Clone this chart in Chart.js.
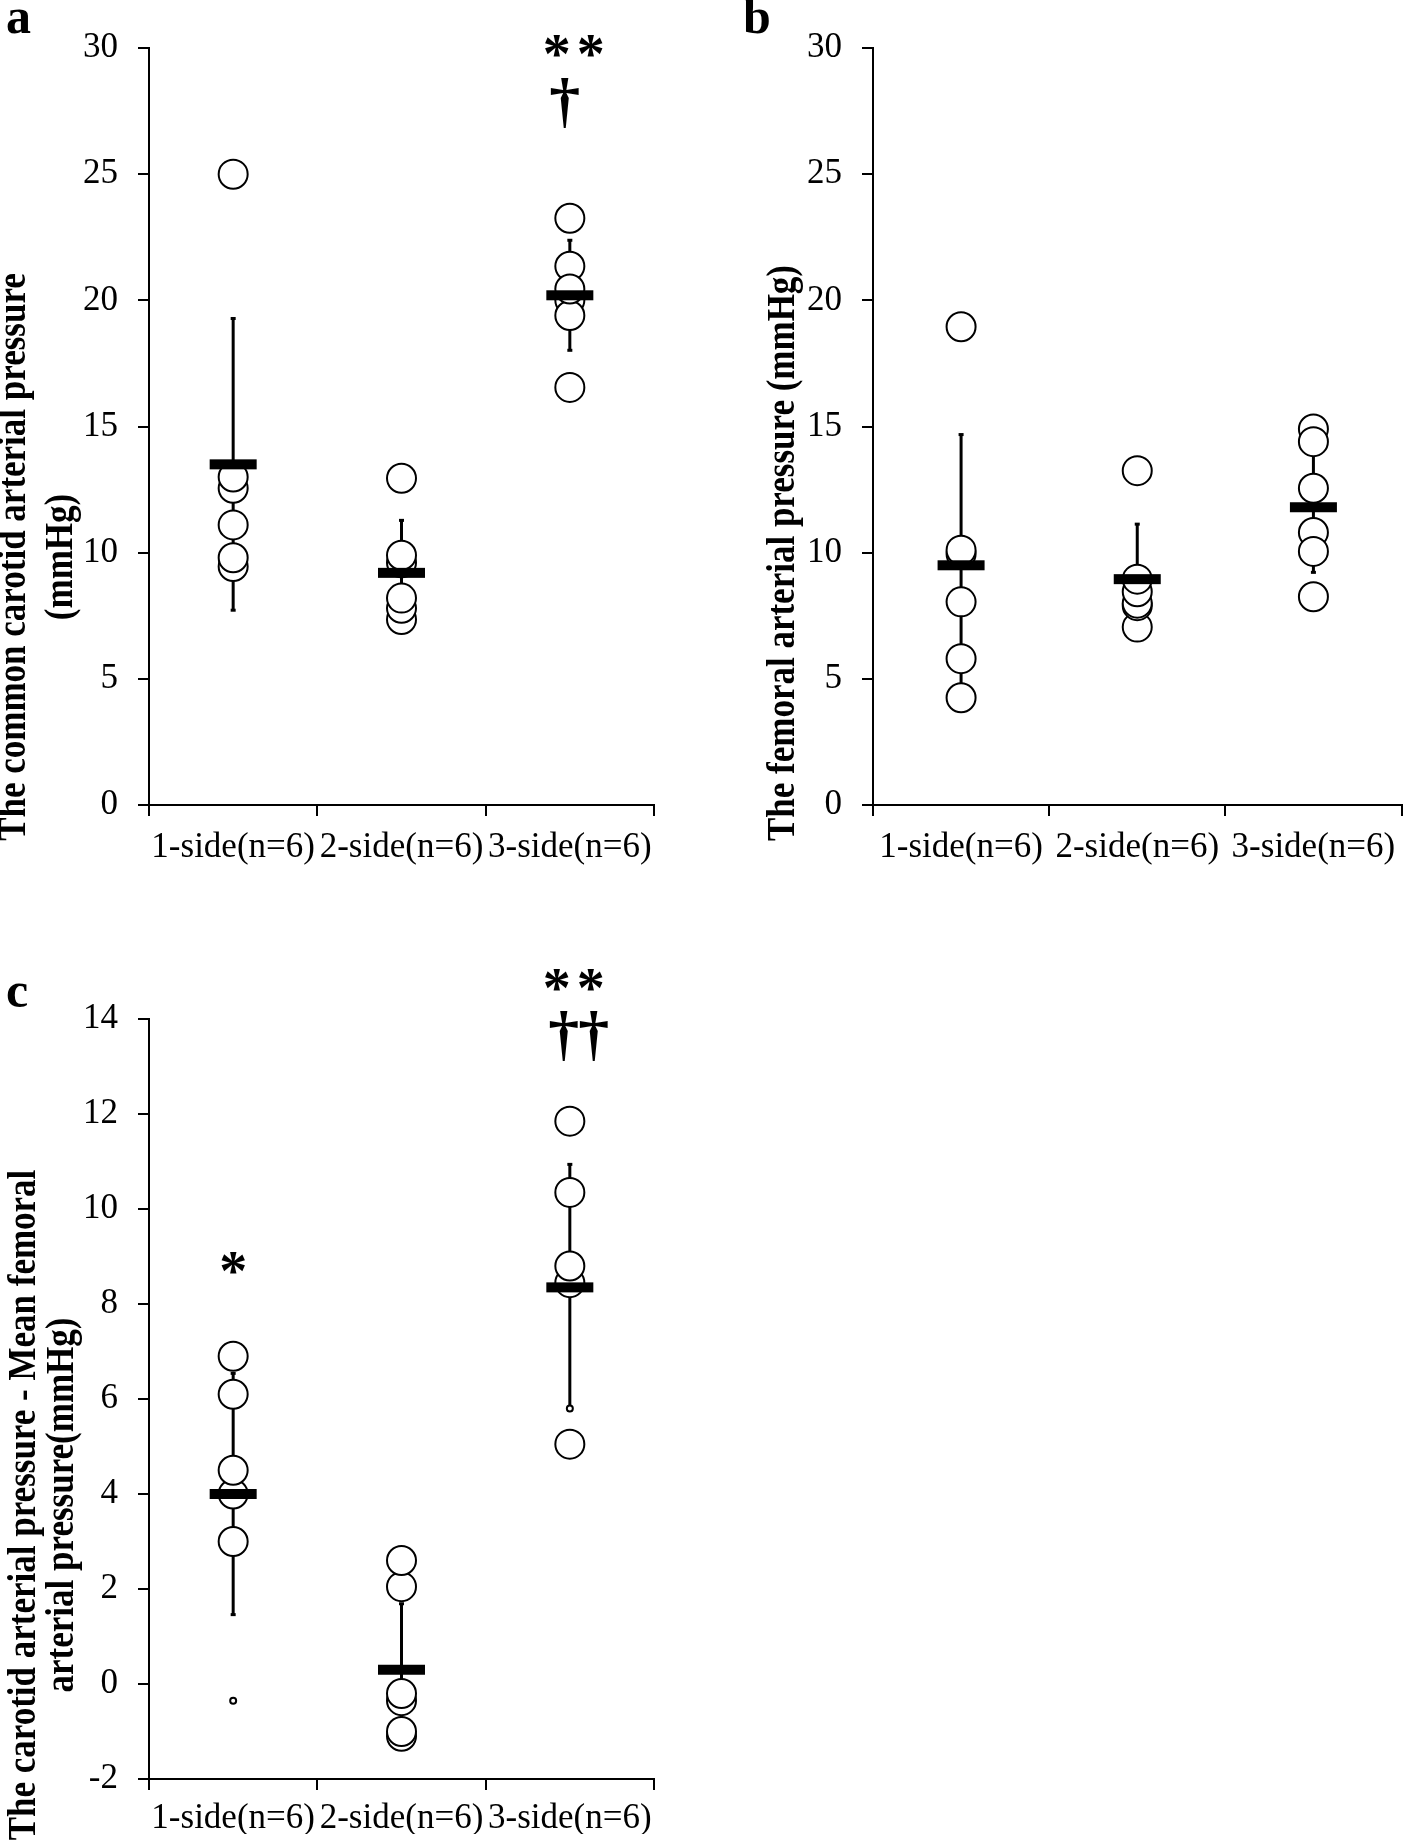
<!DOCTYPE html>
<html><head><meta charset="utf-8">
<script src="https://cdn.jsdelivr.net/npm/chart.js@4.4.0/dist/chart.umd.min.js"></script>
<style>
html,body{margin:0;padding:0;background:#fff;}
body{width:1418px;height:1840px;position:relative;overflow:hidden;}
canvas{position:absolute;}
</style></head><body>
<canvas id="ca" width="709" height="920" style="left:0;top:0;width:709px;height:920px"></canvas>
<canvas id="cb" width="709" height="920" style="left:709px;top:0;width:709px;height:920px"></canvas>
<canvas id="cc" width="709" height="920" style="left:0;top:920px;width:709px;height:920px"></canvas>
<script>
// ---------- DATA ----------
const categories = ['1-side(n=6)', '2-side(n=6)', '3-side(n=6)'];

// a: common carotid arterial pressure (mmHg)
const carotid1 = [9.45, 9.8, 11.1, 12.55, 13.0, 25.0];
const carotid2 = [7.35, 7.8, 8.2, 9.6, 9.9, 12.95];
const carotid3 = [16.55, 20.0, 19.4, 21.35, 20.45, 23.25];
const carotidMean = [13.5, 9.2, 20.2];
const carotidSD = [5.8, 2.1, 2.2];
const carotidTicks = {min: 0, max: 30, step: 5};
const carotidMarks = ['', '', '**|†'];
const carotidMarkValues = [null, null, [30.05, 27.8]];

// b: femoral arterial pressure (mmHg)
const femoral1 = [4.25, 5.8, 8.05, 9.95, 10.1, 18.95];
const femoral2 = [7.05, 7.9, 8.0, 8.45, 8.95, 13.25];
const femoral3 = [8.25, 10.8, 10.05, 12.55, 14.9, 14.4];
const femoralMean = [9.5, 8.95, 11.8];
const femoralSD = [5.2, 2.2, 2.6];
const femoralTicks = {min: 0, max: 30, step: 5};

// c: carotid - mean femoral arterial pressure (mmHg)
const diff1 = [-0.35, 3.0, 4.0, 4.5, 6.1, 6.9];
const diff2 = [-0.35, -0.2, -1.1, -1.0, 2.05, 2.6];
const diff3 = [5.8, 5.05, 8.45, 8.8, 10.35, 11.85];
const diffMean = [4.0, 0.3, 8.35];
const diffSD = [2.55, 1.4, 2.6];
const diffTicks = {min: -2, max: 14, step: 2};
const diffMarks = ['*', '', '**|††'];
const diffMarkValues = [[8.85], null, [14.8, 13.63]];

// ---------- DRAWING ----------
const SERIF = "'Liberation Serif', 'Times New Roman', serif";

function groupDataset(values, cat, radii) {
  return {
    data: values.map(v => ({x: categories[cat], y: v})),
    showLine: false,
    pointRadius: radii || 14.5,
    pointHoverRadius: radii || 14.5,
    pointBackgroundColor: '#fff',
    pointBorderColor: '#000',
    pointBorderWidth: 2,
    clip: false
  };
}

const meanSdPlugin = {
  id: 'meanSd',
  beforeDatasetsDraw(chart, args, opts) {
    const {ctx} = chart; const x = chart.scales.x, y = chart.scales.y;
    ctx.save(); ctx.strokeStyle = '#000'; ctx.fillStyle = '#000'; ctx.lineWidth = 3;
    opts.means.forEach((m, i) => {
      const px = x.getPixelForValue(i);
      const t = y.getPixelForValue(m + opts.sds[i]);
      const b = y.getPixelForValue(m - opts.sds[i]);
      ctx.beginPath(); ctx.moveTo(px, t); ctx.lineTo(px, b); ctx.stroke();
      ctx.fillRect(px - 2.5, t - 1, 5, 3);
      ctx.fillRect(px - 2.5, b - 2, 5, 3);
    });
    ctx.restore();
  },
  afterDatasetsDraw(chart, args, opts) {
    const {ctx} = chart; const x = chart.scales.x, y = chart.scales.y;
    ctx.save(); ctx.fillStyle = '#000';
    opts.means.forEach((m, i) => {
      const px = x.getPixelForValue(i), py = y.getPixelForValue(m);
      ctx.fillRect(px - 23.5, py - 5, 47, 10);
    });
    ctx.restore();
  }
};

const textPlugin = {
  id: 'panelText',
  afterDraw(chart, args, opts) {
    const {ctx} = chart; const x = chart.scales.x, y = chart.scales.y;
    ctx.save(); ctx.fillStyle = '#000';
    // panel letter
    ctx.font = 'bold 50px ' + SERIF; ctx.textAlign = 'left'; ctx.textBaseline = 'alphabetic';
    ctx.fillText(opts.letter, opts.letterX, opts.letterY);
    // rotated axis title
    opts.title.forEach((line, k) => {
      ctx.save();
      ctx.translate(opts.titleX[k], opts.titleCY);
      ctx.rotate(-Math.PI / 2);
      ctx.scale(0.875, 1);
      ctx.font = 'bold 40px ' + SERIF; ctx.textAlign = 'center'; ctx.textBaseline = 'alphabetic';
      ctx.fillText(line, 0, 0);
      ctx.restore();
    });
    // significance marks
    (opts.marks || []).forEach((mk, i) => {
      if (!mk) return;
      const rows = mk.split('|');
      const px = x.getPixelForValue(i);
      rows.forEach((row, r) => {
        const v = opts.markValues[i][r];
        const py = y.getPixelForValue(v);
        const chars = Array.from(row);
        const isDagger = row[0] === '†';
        const sp = isDagger ? 30 : 34;
        const dx = isDagger ? (chars.length > 1 ? 9 : -5) : (chars.length > 1 ? 4 : 0);
        ctx.font = isDagger ? 'bold 62px ' + SERIF : 'bold 56px ' + SERIF;
        ctx.textAlign = 'center'; ctx.textBaseline = 'alphabetic';
        const base = isDagger ? py + 17 : py + 26;
        chars.forEach((c, j) => {
          const off = (j - (chars.length - 1) / 2) * sp;
          ctx.fillText(c, px + dx + off, base);
        });
      });
    });
    ctx.restore();
  }
};

function makeChart(id, sets, means, sds, tk, cfg) {
  return new Chart(document.getElementById(id), {
    type: 'line',
    data: {labels: categories, datasets: sets},
    plugins: [meanSdPlugin, textPlugin],
    options: {
      responsive: false, animation: false, devicePixelRatio: 1,
      layout: {padding: cfg.padding},
      events: [],
      plugins: {
        legend: {display: false}, tooltip: {enabled: false},
        meanSd: {means: means, sds: sds},
        panelText: cfg.text
      },
      scales: {
        x: {
          type: 'category', offset: true,
          grid: {offset: true, drawOnChartArea: false, drawTicks: true, tickLength: 11, color: '#000', lineWidth: 2},
          border: {display: true, color: '#000', width: 2},
          ticks: {font: {family: SERIF, size: 35}, color: '#000', padding: cfg.labelPad, maxRotation: 0, autoSkip: false},
          afterFit(s) { s.height = cfg.xH; }
        },
        y: {
          min: tk.min, max: tk.max,
          grid: {drawOnChartArea: false, drawTicks: true, tickLength: 11, color: '#000', lineWidth: 2},
          border: {display: true, color: '#000', width: 2},
          ticks: {stepSize: tk.step, font: {family: SERIF, size: 35}, color: '#000', padding: 20},
          afterFit(s) { s.width = cfg.yW; }
        }
      }
    }
  });
}

makeChart('ca',
  [groupDataset(carotid1, 0), groupDataset(carotid2, 1), groupDataset(carotid3, 2)],
  carotidMean, carotidSD, carotidTicks,
  {padding: {left: 0, right: 55, top: 48, bottom: 10}, xH: 105, yW: 149, labelPad: 11,
   text: {letter: 'a', letterX: 6, letterY: 33,
          title: ['The common carotid arterial pressure', '(mmHg)'], titleX: [25, 72], titleCY: 557,
          marks: carotidMarks, markValues: carotidMarkValues}});

makeChart('cb',
  [groupDataset(femoral1, 0), groupDataset(femoral2, 1), groupDataset(femoral3, 2)],
  femoralMean, femoralSD, femoralTicks,
  {padding: {left: 0, right: 1, top: 48, bottom: 10}, xH: 105, yW: 164, labelPad: 11,
   text: {letter: 'b', letterX: 34, letterY: 33,
          title: ['The femoral arterial pressure (mmHg)'], titleX: [85], titleCY: 553,
          marks: [], markValues: []}});

makeChart('cc',
  [groupDataset(diff1, 0, [3, 14.5, 14.5, 14.5, 14.5, 14.5]), groupDataset(diff2, 1), groupDataset(diff3, 2, [3, 14.5, 14.5, 14.5, 14.5, 14.5])],
  diffMean, diffSD, diffTicks,
  {padding: {left: 0, right: 55, top: 99, bottom: 6}, xH: 55, yW: 149, labelPad: 8,
   text: {letter: 'c', letterX: 6, letterY: 87,
          title: ['The carotid arterial pressure - Mean femoral', 'arterial pressure(mmHg)'], titleX: [35, 73], titleCY: 585,
          marks: diffMarks, markValues: diffMarkValues}});
</script>
</body></html>
